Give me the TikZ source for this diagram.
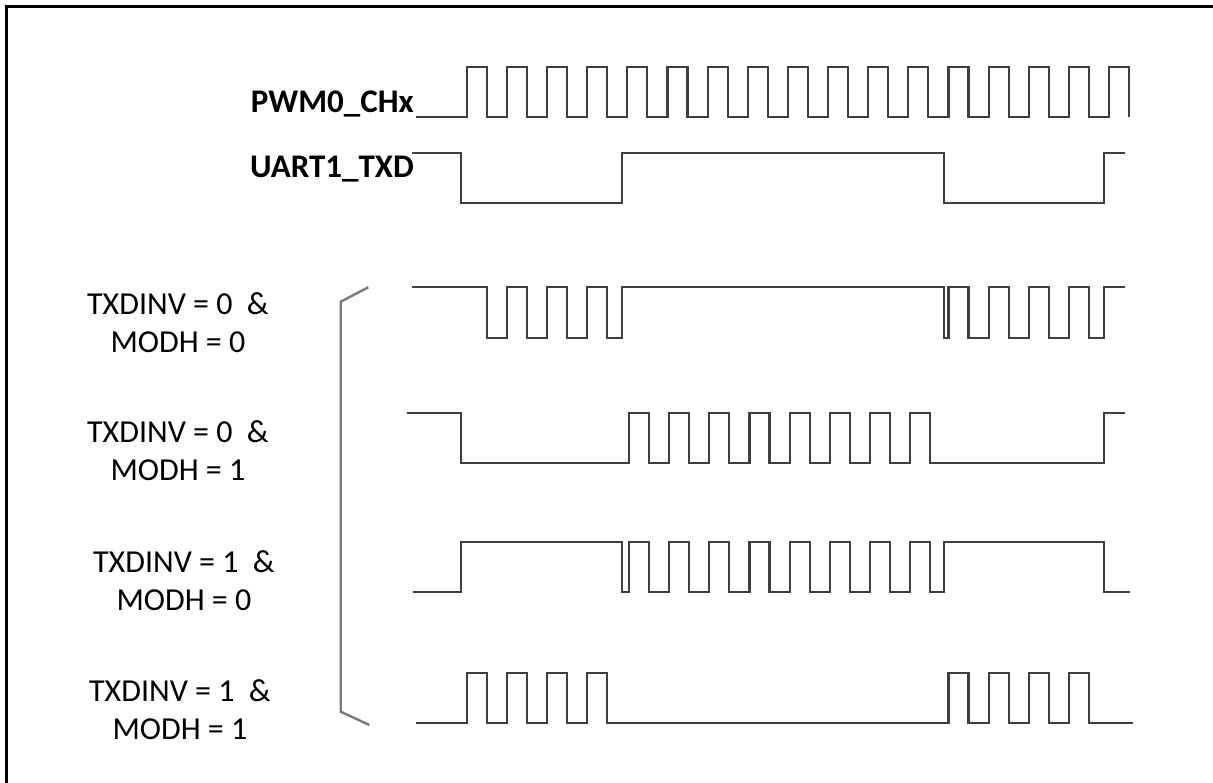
\documentclass[tikz,border=0pt]{standalone}
\usepackage{fontspec}
\setmainfont{Carlito}
\usetikzlibrary{positioning}
\definecolor{wave}{HTML}{404040}
\definecolor{brk}{HTML}{7A7A7A}
\tikzset{sig/.style={draw=wave,line width=2.2pt},bracketline/.style={draw=brk,line width=2.4pt},namelab/.style={font=\fontsize{33}{38}\selectfont\bfseries,inner sep=0pt,anchor=base east},condlab/.style={font=\fontsize{32}{38}\selectfont,align=center,inner sep=0pt}}

\begin{document}
\begin{tikzpicture}[x=1pt,y=-1pt]
\clip (0,0) rectangle (1213,783);
\draw[line width=3pt] (6.5,6.5) rectangle (1230,800);
% signal names
\node[namelab] (pwm) at (414,113) {PWM0\_CHx};
\node[namelab] (txd) at (414,178) {UART1\_TXD};
\node[condlab] (c00) at (178,323) {TXDINV = 0 ~\&\\MODH = 0};
\node[condlab] (c01) at (178,451) {TXDINV = 0 ~\&\\MODH = 1};
\node[condlab] (c10) at (184,581) {TXDINV = 1 ~\&\\MODH = 0};
\node[condlab] (c11) at (180,709.5) {TXDINV = 1 ~\&\\MODH = 1};
% PWM0_CHx and UART1_TXD
\draw[sig] (416,117) foreach \k in {0,...,16}{ -| ({466.7+40.15*\k},66.7) -| ({486.7+40.15*\k},117) };
\draw[sig] (411.7,153.3) -| (461,203.3) -| (622.3,153.3) -| (944,203.3) -| (1104.3,153.3) -- (1125,153.3);
% modulated outputs
\draw[sig] (411.7,287.3) foreach \k in {0,1,2}{ -| ({486.7+40.15*\k},338) -| ({506.85+40.15*\k},287.3) } -| (607.2,338) -| (622.3,287.3) -| (944,338) -| (948.5,287.3) foreach \k in {12,13,14}{ -| ({486.7+40.15*\k},338) -| ({506.85+40.15*\k},287.3) } -| (1089,338) -| (1104.3,287.3) -- (1125,287.3);
\draw[sig] (406.7,412.7) -| (461,462.7) foreach \k in {0,...,7}{ -| ({629+40.15*\k},412.7) -| ({649+40.15*\k},462.7) } -| (1104.3,412.7) -- (1125,412.7);
\draw[sig] (413.3,591.7) -| (461,541.7) -| (622.3,591.7) foreach \k in {0,...,7}{ -| ({629+40.15*\k},541.7) -| ({649+40.15*\k},591.7) } -| (944,541.7) -| (1104.3,591.7) -- (1130,591.7);
\draw[sig] (416,723.3) foreach \k in {0,...,3}{ -| ({466.7+40.15*\k},673.3) -| ({486.7+40.15*\k},723.3) } foreach \k in {12,...,15}{ -| ({466.7+40.15*\k},673.3) -| ({486.7+40.15*\k},723.3) } -- (1132.7,723.3);
% bracket
\draw[bracketline] (368.3,287.3) -- (340.7,301.7) -- (340.7,711.7) -- (369.3,725);
\end{tikzpicture}
\end{document}
